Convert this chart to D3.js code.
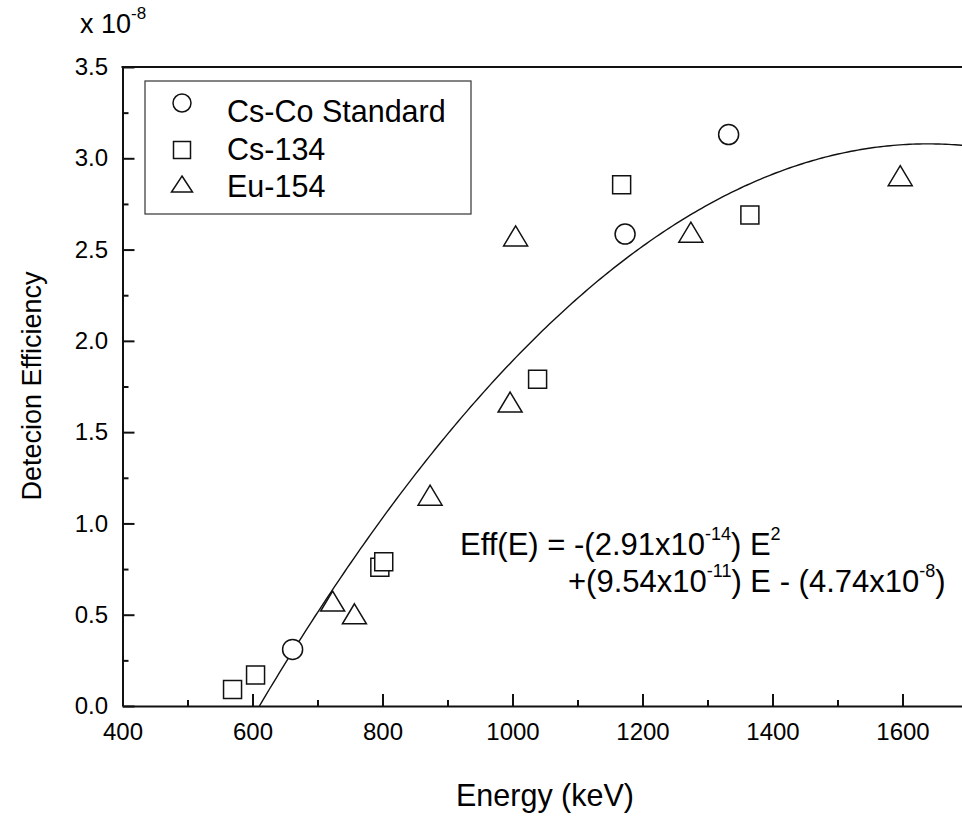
<!DOCTYPE html>
<html>
<head>
<meta charset="utf-8">
<script src="https://cdn.jsdelivr.net/npm/d3@7"></script>
<style>
  html, body { margin: 0; padding: 0; background: #fff; }
  svg { display: block; font-family: "Liberation Sans", Arial, Helvetica, sans-serif; }
</style>
</head>
<body>
<svg id="chart" width="962" height="818"></svg>
<script>
// ---- Data (efficiency in units of 1e-8) ----
const csCoEnergy = [661.7, 1173.2, 1332.5];
const csCoEff    = [0.31, 2.585, 3.13];

const cs134Energy = [569.3, 604.7, 795.9, 801.9, 1038.6, 1167.9, 1365.2];
const cs134Eff    = [0.09, 0.17, 0.76, 0.79, 1.79, 2.855, 2.69];

const eu154Energy = [723.3, 756.8, 873.2, 996.3, 1004.8, 1274.4, 1596.5];
const eu154Eff    = [0.575, 0.505, 1.155, 1.665, 2.575, 2.595, 2.905];

// fit coefficients: Eff(E) = a E^2 + b E + c  (absolute units)
const fitCoef = [-2.91e-14, 9.54e-11, -4.74e-8];
const yScaleFactor = 1e-8;

const xTicks = [400, 600, 800, 1000, 1200, 1400, 1600];
const xMinorTicks = [500, 700, 900, 1100, 1300, 1500, 1700];
const yTicks = [0.0, 0.5, 1.0, 1.5, 2.0, 2.5, 3.0, 3.5];
const yMinorTicks = [0.25, 0.75, 1.25, 1.75, 2.25, 2.75, 3.25];

const legendLabels = ["Cs-Co Standard", "Cs-134", "Eu-154"];

// ---- Layout ----
const svg = d3.select("#chart");
const pLeft = 122.5, pRight = 967.5, pTop = 67, pBottom = 706;
const x = d3.scaleLinear().domain([400, 1700]).range([pLeft, pRight]);
const y = d3.scaleLinear().domain([0, 3.5]).range([pBottom, pTop]);
const ink = "#111";

svg.append("defs").append("clipPath").attr("id", "plotclip")
  .append("rect").attr("x", pLeft).attr("y", pTop).attr("width", pRight - pLeft).attr("height", pBottom - pTop);

// ---- Fit curve ----
const e0 = (() => {
  const [a, b, c] = fitCoef;
  return (-b + Math.sqrt(b * b - 4 * a * c)) / (2 * a);
})();
const curveE = d3.range(Math.ceil(e0), 1701, 5);
curveE.unshift(e0);
const fitLine = d3.line()
  .x(d => x(d))
  .y(d => y((fitCoef[0] * d * d + fitCoef[1] * d + fitCoef[2]) / yScaleFactor));
svg.append("path")
  .attr("clip-path", "url(#plotclip)")
  .attr("d", fitLine(curveE))
  .attr("fill", "none").attr("stroke", ink).attr("stroke-width", 1.4);

// ---- Markers ----
const triPath = (w, h) => `M0,${-h / 2}L${w / 2},${h / 2}L${-w / 2},${h / 2}Z`;
const sqPath = s => `M${-s / 2},${-s / 2}h${s}v${s}h${-s}Z`;

const mk = svg.append("g").attr("fill", "#fff").attr("stroke", ink).attr("stroke-width", 1.5);
mk.selectAll(".tri").data(d3.zip(eu154Energy, eu154Eff)).join("path")
  .attr("d", triPath(24, 20))
  .attr("transform", d => `translate(${x(d[0])},${y(d[1])})`);
mk.selectAll(".sq").data(d3.zip(cs134Energy, cs134Eff)).join("path")
  .attr("d", sqPath(18))
  .attr("transform", d => `translate(${x(d[0])},${y(d[1])})`);
mk.selectAll(".circ").data(d3.zip(csCoEnergy, csCoEff)).join("circle")
  .attr("r", 10)
  .attr("cx", d => x(d[0])).attr("cy", d => y(d[1]));

// ---- Axes ----
const fs = 24;
const xAxis = svg.append("g").attr("transform", `translate(0,${pBottom})`)
  .call(d3.axisBottom(x).tickValues(xTicks).tickSize(-12).tickSizeOuter(0).tickPadding(17).tickFormat(d3.format("d")));
const xMinor = svg.append("g").attr("transform", `translate(0,${pBottom})`)
  .call(d3.axisBottom(x).tickValues(xMinorTicks).tickSize(-6).tickSizeOuter(0).tickFormat(""));
const yAxis = svg.append("g").attr("transform", `translate(${pLeft},0)`)
  .call(d3.axisLeft(y).tickValues(yTicks).tickSize(-12).tickSizeOuter(0).tickPadding(14.5).tickFormat(d3.format(".1f")));
const yMinor = svg.append("g").attr("transform", `translate(${pLeft},0)`)
  .call(d3.axisLeft(y).tickValues(yMinorTicks).tickSize(-6).tickSizeOuter(0).tickFormat(""));

[xAxis, xMinor, yAxis, yMinor].forEach(g => {
  g.select(".domain").attr("stroke", ink).attr("stroke-width", 2);
  g.selectAll(".tick line").attr("stroke", ink).attr("stroke-width", 2);
  g.selectAll("text").attr("fill", "#000").style("font-size", fs + "px")
    .style("font-family", '"Liberation Sans", Arial, sans-serif');
});
xMinor.select(".domain").remove();
yMinor.select(".domain").remove();

svg.append("line").attr("x1", pLeft - 1).attr("x2", 962).attr("y1", pTop).attr("y2", pTop)
  .attr("stroke", ink).attr("stroke-width", 2);

// ---- Axis titles ----
svg.append("text").attr("x", 545).attr("y", 806)
  .attr("text-anchor", "middle").style("font-size", "30.5px").text("Energy (keV)");
svg.append("text").attr("transform", "translate(41,386) rotate(-90)")
  .attr("text-anchor", "middle").style("font-size", "27px").text("Detecion Efficiency");

const mult = svg.append("text").attr("x", 80).attr("y", 33).style("font-size", "27px");
mult.append("tspan").text("x 10");
mult.append("tspan").attr("dy", -14).style("font-size", "17px").text("-8");

// ---- Legend ----
const lg = svg.append("g");
lg.append("rect").attr("x", 145).attr("y", 81).attr("width", 326).attr("height", 133)
  .attr("fill", "#fff").attr("stroke", "#333").attr("stroke-width", 1.2);
const legRows = [
  { sym: "circle", sy: 103, ty: 121.5 },
  { sym: "square", sy: 150, ty: 160 },
  { sym: "triangle", sy: 184, ty: 197 }
];
legRows.forEach((r, i) => {
  if (r.sym === "circle") {
    lg.append("circle").attr("cx", 182).attr("cy", r.sy).attr("r", 9)
      .attr("fill", "none").attr("stroke", ink).attr("stroke-width", 1.5);
  } else if (r.sym === "square") {
    lg.append("path").attr("d", sqPath(17)).attr("transform", `translate(182,${r.sy})`)
      .attr("fill", "none").attr("stroke", ink).attr("stroke-width", 1.5);
  } else {
    lg.append("path").attr("d", triPath(21, 16)).attr("transform", `translate(182,${r.sy})`)
      .attr("fill", "none").attr("stroke", ink).attr("stroke-width", 1.5);
  }
  lg.append("text").attr("x", 227).attr("y", r.ty).style("font-size", "30.5px").text(legendLabels[i]);
});

// ---- Equation ----
const eq1 = svg.append("text").attr("x", 460).attr("y", 555).style("font-size", "31px");
eq1.append("tspan").text("Eff(E) = -(2.91x10");
eq1.append("tspan").attr("dy", -15).style("font-size", "18px").text("-14");
eq1.append("tspan").attr("dy", 15).text(") E");
eq1.append("tspan").attr("dy", -15).style("font-size", "18px").text("2");

const eq2 = svg.append("text").attr("x", 568).attr("y", 592).style("font-size", "31px");
eq2.append("tspan").text("+(9.54x10");
eq2.append("tspan").attr("dy", -15).style("font-size", "18px").text("-11");
eq2.append("tspan").attr("dy", 15).text(") E - (4.74x10");
eq2.append("tspan").attr("dy", -15).style("font-size", "18px").text("-8");
eq2.append("tspan").attr("dy", 15).text(")");
</script>
</body>
</html>
